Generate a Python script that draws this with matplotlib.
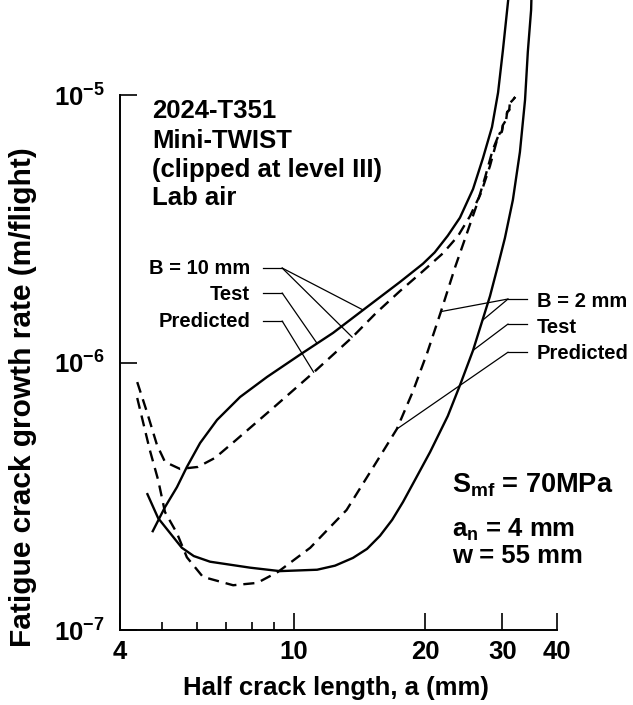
"""
Fatigue crack growth rate vs half crack length, 2024-T351, Mini-TWIST.
Test vs predicted curves for B = 10 mm and B = 2 mm sheets.
"""

import numpy as np
import matplotlib
matplotlib.use('Agg')
import matplotlib.pyplot as plt
from matplotlib.ticker import NullFormatter, NullLocator

plt.rcParams['font.family'] = 'Liberation Sans'
plt.rcParams['font.weight'] = 'bold'
plt.rcParams['mathtext.fontset'] = 'custom'
for k in ('rm', 'it', 'bf', 'sf'):
    plt.rcParams['mathtext.' + k] = 'Liberation Sans:bold'
plt.rcParams['lines.scale_dashes'] = False

# B = 10 mm, test (solid)
b10_test_a = [4.74, 5.07, 5.40, 5.69, 6.10, 6.67, 7.53, 8.68, 10.33, 12.29, 14.39,
              17.49, 19.74, 21.0, 22.5, 23.99, 25.70, 27.08, 28.40, 29.32, 30.08,
              30.76, 31.1]
b10_test_da = [2.32e-7, 2.88e-7, 3.42e-7, 4.07e-7, 5.00e-7, 6.10e-7, 7.43e-7, 8.83e-7,
               1.07e-6, 1.29e-6, 1.57e-6, 2.00e-6, 2.34e-6, 2.58e-6, 2.98e-6, 3.48e-6,
               4.45e-6, 5.81e-6, 7.59e-6, 1.02e-5, 1.47e-5, 2.08e-5, 2.47e-5]

# B = 10 mm, predicted (dashed)
b10_pred_a = [4.38, 4.61, 4.86, 5.07, 5.49, 6.03, 6.60, 7.33, 8.96, 11.06, 13.58,
              15.41, 17.49, 19.64, 21.93, 23.74, 25.28, 26.8, 28.1, 29.16]
b10_pred_da = [8.45e-7, 6.53e-7, 4.92e-7, 4.25e-7, 4.00e-7, 4.07e-7, 4.40e-7, 5.09e-7,
               6.76e-7, 9.14e-7, 1.24e-6, 1.53e-6, 1.85e-6, 2.18e-6, 2.56e-6, 2.97e-6,
               3.52e-6, 4.30e-6, 5.43e-6, 6.79e-6]

# B = 2 mm, test (solid)
b2_test_a = [4.61, 4.89, 5.54, 5.90, 6.43, 7.94, 9.29, 11.3, 12.42, 13.65, 14.7,
             15.74, 16.78, 17.77, 18.93, 20.5, 22.5, 24.0, 25.7, 26.94, 28.1, 29.3,
             30.4, 31.7, 32.9, 33.8, 34.3, 34.9, 35.0]
b2_test_da = [3.25e-7, 2.62e-7, 2.03e-7, 1.89e-7, 1.80e-7, 1.71e-7, 1.66e-7, 1.68e-7,
              1.74e-7, 1.86e-7, 2.01e-7, 2.25e-7, 2.58e-7, 3.01e-7, 3.64e-7, 4.63e-7,
              6.31e-7, 8.24e-7, 1.11e-6, 1.42e-6, 1.77e-6, 2.30e-6, 2.92e-6, 4.05e-6,
              6.12e-6, 9.58e-6, 1.45e-5, 2.08e-5, 2.47e-5]

# B = 2 mm, predicted (dashed)
b2_pred_a = [4.38, 4.68, 4.89, 5.07, 5.40, 5.69, 6.19, 7.26, 8.24, 9.20, 10.9,
             13.2, 15.7, 17.2, 18.7, 20.2, 21.7, 23.4, 24.9, 26.2, 27.4, 28.5, 29.3]
b2_pred_da = [7.37e-7, 4.71e-7, 3.64e-7, 2.76e-7, 2.30e-7, 1.87e-7, 1.58e-7, 1.47e-7,
              1.50e-7, 1.65e-7, 2.03e-7, 2.81e-7, 4.43e-7, 5.64e-7, 7.76e-7, 1.09e-6,
              1.55e-6, 2.28e-6, 3.05e-6, 3.88e-6, 4.94e-6, 6.23e-6, 6.97e-6]

# ragged end shared by both predictions
pred_tail_a = [29.6, 29.9, 30.08, 30.6, 30.76, 31.1, 31.2, 31.7, 32.1]
pred_tail_da = [7.21e-6, 7.27e-6, 7.72e-6, 8.07e-6, 8.63e-6, 8.79e-6, 9.33e-6,
                9.58e-6, 9.83e-6]

x_ticks = [4, 10, 20, 30, 40]
x_minor = [5, 6, 7, 8, 9]
y_ticks = [1e-7, 1e-6, 1e-5]
y_labels = [r'$10^{-7}$', r'$10^{-6}$', r'$10^{-5}$']

info_lines = ['2024-T351', 'Mini-TWIST', '(clipped at level III)', 'Lab air']
cond_lines = [r'S$_{\rm mf}$ = 70MPa', r'a$_{\rm n}$ = 4 mm', 'w = 55 mm']

# x positions on the curves where the leader lines land
b10_label_x = {'both': (14.4, 13.6), 'test': 11.3, 'pred': 11.1}
b2_label_x = {'both': (27.0, 21.7), 'test': 25.7, 'pred': 17.2}


def on_curve(xs, ys, x):
    return 10 ** np.interp(np.log10(x), np.log10(xs), np.log10(ys))


b10_pred_a_full = b10_pred_a + pred_tail_a
b10_pred_da_full = b10_pred_da + pred_tail_da
b2_pred_a_full = b2_pred_a + pred_tail_a
b2_pred_da_full = b2_pred_da + pred_tail_da

fig = plt.figure(figsize=(6.33, 7.05), dpi=100)
ax = fig.add_axes([120 / 633, 75 / 705, 437 / 633, 630 / 705])
ax.set_xscale('log')
ax.set_yscale('log')
ax.set_xlim(4, 40)
ax.set_ylim(1e-7, 10 ** (-7 + 630 / 267.5))

lw = 1.7
dash = (0, (8, 5))
ax.plot(b10_test_a, b10_test_da, color='black', lw=lw, solid_capstyle='butt')
ax.plot(b2_test_a, b2_test_da, color='black', lw=lw, solid_capstyle='butt')
ax.plot(b10_pred_a_full, b10_pred_da_full, color='black', lw=lw, linestyle=dash)
ax.plot(b2_pred_a_full, b2_pred_da_full, color='black', lw=lw, linestyle=dash)

# axes styling
for s in ('top', 'right'):
    ax.spines[s].set_visible(False)
ax.spines['left'].set_bounds(1e-7, 1e-5)
ax.spines['left'].set_linewidth(1.4)
ax.spines['bottom'].set_linewidth(1.4)

ax.set_xticks(x_ticks)
ax.set_xticklabels([str(t) for t in x_ticks])
ax.set_xticks(x_minor, minor=True)
ax.xaxis.set_minor_formatter(NullFormatter())
ax.set_yticks(y_ticks)
ax.set_yticklabels(y_labels)
ax.yaxis.set_minor_locator(NullLocator())

ax.tick_params(axis='x', which='major', direction='in', length=12, width=1.2,
               pad=7, labelsize=18.5)
ax.tick_params(axis='x', which='minor', direction='in', length=6, width=1.2)
ax.tick_params(axis='y', which='major', direction='in', length=12, width=1.2,
               pad=11, labelsize=18.5)

ax.text(0.494, -0.103, 'Half crack length, a (mm)', transform=ax.transAxes,
        ha='center', va='baseline', fontsize=18.5)
ax.text(-0.222, 0.37, 'Fatigue crack growth rate (m/flight)', transform=ax.transAxes,
        rotation=90, ha='center', va='center', fontsize=21.5)

# info block top-left
for txt, yb in zip(info_lines, [0.8127, 0.765, 0.719, 0.6746]):
    ax.text(0.0732, yb, txt, transform=ax.transAxes, ha='left', va='baseline',
            fontsize=18.5)

# conditions block bottom-right
for txt, yb, fs in zip(cond_lines, [0.2175, 0.1476, 0.1063], [19.5, 18.5, 18.5]):
    ax.text(0.76, yb, txt, transform=ax.transAxes, ha='left', va='baseline',
            fontsize=fs)

lead_kw = dict(color='black', lw=0.9)


def leader(x0, x1, y, targets):
    ax.plot([x0, x1], [y, y], transform=ax.transAxes, **lead_kw)
    for tx, ty in targets:
        ax.annotate('', xy=(tx, ty), xycoords='data', xytext=(x1, y),
                    textcoords='axes fraction',
                    arrowprops=dict(arrowstyle='-', shrinkA=0, shrinkB=0, **lead_kw))


# B = 10 mm labels (left of curves)
b10_texts = ['B = 10 mm', 'Test', 'Predicted']
for txt, yb in zip(b10_texts, [0.565, 0.5238, 0.481]):
    ax.text(0.2975, yb, txt, transform=ax.transAxes, ha='right', va='baseline',
            fontsize=14.5)
xa, xb = b10_label_x['both']
leader(0.327, 0.371, 0.5746, [(xa, on_curve(b10_test_a, b10_test_da, xa)),
                              (xb, on_curve(b10_pred_a_full, b10_pred_da_full, xb))])
x = b10_label_x['test']
leader(0.327, 0.371, 0.535, [(x, on_curve(b10_test_a, b10_test_da, x))])
x = b10_label_x['pred']
leader(0.327, 0.371, 0.4905, [(x, on_curve(b10_pred_a_full, b10_pred_da_full, x))])

# B = 2 mm labels (right of curves)
b2_texts = ['B = 2 mm', 'Test', 'Predicted']
for txt, yb in zip(b2_texts, [0.5127, 0.4714, 0.430]):
    ax.text(0.954, yb, txt, transform=ax.transAxes, ha='left', va='baseline',
            fontsize=14.5, clip_on=False)
xa, xb = b2_label_x['both']
leader(0.931, 0.888, 0.5254, [(xa, on_curve(b2_test_a, b2_test_da, xa)),
                              (xb, on_curve(b2_pred_a_full, b2_pred_da_full, xb))])
x = b2_label_x['test']
leader(0.931, 0.888, 0.4857, [(x, on_curve(b2_test_a, b2_test_da, x))])
x = b2_label_x['pred']
leader(0.931, 0.888, 0.441, [(x, on_curve(b2_pred_a_full, b2_pred_da_full, x))])

fig.savefig('out.png', dpi=100, facecolor='white')
